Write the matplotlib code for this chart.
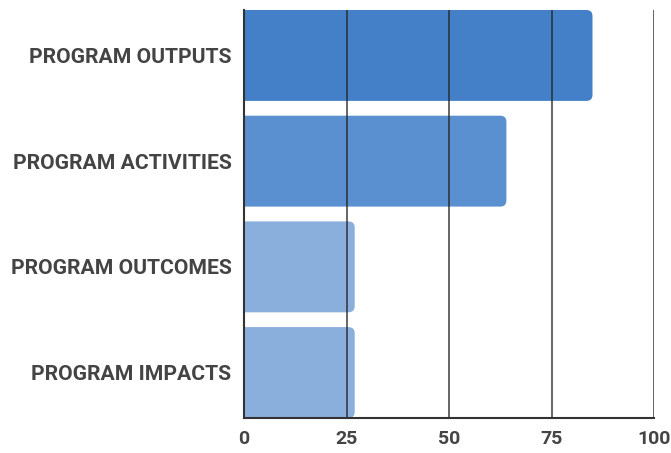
import matplotlib
matplotlib.use("Agg")
import matplotlib.pyplot as plt
from matplotlib.patches import FancyBboxPatch

categories = ["PROGRAM OUTPUTS", "PROGRAM ACTIVITIES", "PROGRAM OUTCOMES", "PROGRAM IMPACTS"]
values = [85, 64, 27, 27]
colors = ["#4380c8", "#5b90d0", "#8aafdd", "#8aafdd"]
xticks = [0, 25, 50, 75, 100]

plt.rcParams['font.family'] = ['Roboto', 'DejaVu Sans']
fig = plt.figure(figsize=(6.71, 4.53), dpi=100)
ax = fig.add_axes([244/671, 35/453, 410/671, 408/453])
ax.set_xlim(0, 100)
bh = 0.86
ax.set_ylim(len(categories) - 1 + bh / 2, -bh / 2)

bars = ax.barh(range(len(categories)), values, height=bh, color="none")
aspect = ((len(categories) - 1 + bh) / 408) / (100 / 410)
for b, c in zip(bars, colors):
    x0, y0 = b.get_x(), b.get_y()
    w, h = b.get_width(), b.get_height()
    p = FancyBboxPatch((x0 - 5, y0), w + 5, h,
                       boxstyle="round,pad=0,rounding_size=1.5",
                       mutation_aspect=aspect, facecolor=c, edgecolor="none",
                       zorder=2, clip_on=True)
    ax.add_patch(p)
    p.set_clip_path(ax.patch)

for xv in xticks[1:]:
    ax.axvline(xv, color="#222222", alpha=0.75, lw=1.3, zorder=3)

ax.set_yticks(range(len(categories)))
ax.set_yticklabels(categories, fontsize=15.2, fontweight="bold", color="#444444")
ax.set_xticks(xticks)
ax.set_xticklabels([str(t) for t in xticks], fontsize=14, fontweight="bold", color="#444444")
ax.tick_params(axis="both", length=0)
ax.tick_params(axis="y", pad=9)
ax.tick_params(axis="x", pad=9)
for s in ["top", "right"]:
    ax.spines[s].set_visible(False)
for s in ["left", "bottom"]:
    ax.spines[s].set_color("#333333")
    ax.spines[s].set_linewidth(1.5)
    ax.spines[s].set_zorder(4)

fig.savefig("out.png", dpi=100)
